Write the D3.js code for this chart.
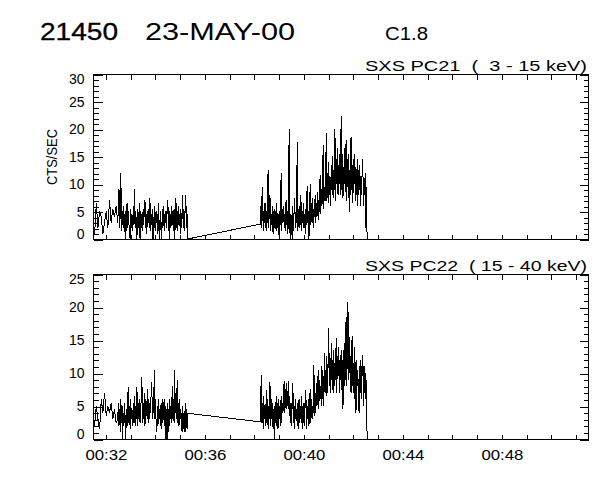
<!DOCTYPE html>
<html><head><meta charset="utf-8">
<script src="https://cdn.jsdelivr.net/npm/d3@7"></script>
<style>
body{margin:0;background:#fff}
svg{display:block}
text{font-family:"Liberation Sans",Arial,sans-serif;fill:#000}
</style>
</head><body>
<svg id="c" width="600" height="480"></svg>
<script>
// ---------- data ----------
const titleParts = ["21450", "23-MAY-00", "C1.8"];
const panelLabels = ["SXS PC21  (  3 - 15 keV)", "SXS PC22  ( 15 - 40 keV)"];
const yAxisTitle = "CTS/SEC";
const xDomain = [31.5, 51.5];            // minutes after 00:00 UT
const xTickMinutes = [32, 36, 40, 44, 48];
const xTickLabels = ["00:32", "00:36", "00:40", "00:44", "00:48"];
const yMaxes = [30, 25];
// segment start (minutes after 00:00) and cadence (seconds)
const segStartMin = [31.5, 32.5, 38.25];
const segStepSec = [4, 1.5, 1.5];

// PC21 (3-15 keV)
const pc21Sparse = [4, 1, 6.5, 2, 5, 4, 1, 3, 5, 2, 7, 3, 5.5, 4, 6];
const pc21Seg1 = [
  3,5.5,9,2,4.5,12,1.5,5,2.5,6,
  2,4.5,0,5,1.5,6.5,2,5,3,1,
  0,5.5,2,4.5,1.5,6,2.5,9,2,5,
  3,0,5.5,2,4,6.5,0,5,2,4.5,
  1.5,5.5,2.5,6,7,2,4.5,1,5,3,
  5.5,2,7.5,1.5,4.5,2.5,5.5,0,4,2,
  6,1.5,5,3,4.5,1,6.5,2,0,5,
  2.5,0,5.5,2,6,1.5,4.5,3,5,2,
  6,7,1.5,5,0,4.5,2,6,2.5,5,
  1.5,5.5,0,3,7.5,2,5,1.5,6,2.5,
  4.5,1,5.5,2,4,8,2,5.5,1.5,6,
  8,2,4.5,0];
const pc21Seg2 = [
  2.7,6,2,7.5,9.5,1.5,5,3,6.5,2,
  5,1.5,7,12.6,2,5.5,8,1.5,4.5,2.5,
  6,1,5,2,5.5,3,1.5,6.5,2,4.5,
  2,0,5,2.5,12,1.5,5.5,3,6,2,
  4.5,1.5,7,2.5,5,1,5.5,20,2,0,
  4.5,2,0,6,1.5,5,7.5,2,4,3,
  17.7,1.5,5.5,2,6,2.5,8,1.5,5,3,
  6.5,2,4.5,1,5.5,2.5,9.6,3,5,0,
  5,10,2.5,6.5,3,7.5,2,5.5,4,8,
  3,6.5,4,8.5,3.5,7,5,11.7,4.5,9,
  6,10,17,5.5,9.5,7,11,19.2,7,12,
  6.5,14,8,11.5,6,13.5,9,15,7.5,12.5,
  9,20,7,14.5,10,16.5,8,13.5,10,15.5,
  8,22.4,9,15.5,7.5,13,10,16.5,8.5,18,
  7,14.5,9.5,15.5,5,12.5,8,18.5,9,13.5,
  6.5,14.5,10,15.5,7,13,8,14.5,6,12.5,
  9,13.5,6,11.5,8,12.5,14.5,6,11,8,
  12,2,9.5,0];

// PC22 (15-40 keV)
const pc22Sparse = [4, 2, 5, 3, 1.5, 6, 4, 7, 3.5, 5, 4, 5.5, 3, 4.5, 2.5];
const pc22Seg1 = [
  3,5.5,2,4.5,1,6,2.5,5,0,4,
  2,5.5,3,0,4.5,2,6,7.9,2.5,5,
  1.5,6,3,4.5,2,5.5,2.5,6.5,2,5,
  3,7.9,2,5.5,3,6,2.5,4.5,6,9.4,
  2.5,5.5,3,7,2,6,3.5,5,7.5,2.5,
  6,3,5.5,4,7,8.7,3,6.5,4,10.5,
  3,6,2.5,1,5,2,6,3,4.5,2,
  5.5,1.5,6,2.5,4.5,6,2,5,0,3,
  5.5,0,4.5,2,6,3,5,2.5,8,3,
  6,2.5,10.5,4,7,3,9,2.5,5.5,2,
  6,3,4.5,2,1,5,1.5,4,1,5.5,
  1,4.5,1.5,3.9];
const pc22Seg2 = [
  2.6,6,9.7,2.5,5.5,1.5,6.5,3,5,2,
  7.4,2.5,6,1.5,5,3,8.6,2,6,3,
  5.5,1.5,4.5,0,5,2.5,6.5,2,5.5,1.5,
  6,3,5,2,6.5,2.5,5.5,4,7,8.8,
  4,7.5,4.5,8.5,5,7,8.8,3.5,6.5,2.5,
  5.5,2,6,8.5,2.5,5,1.5,6,3,4.5,
  2,5.5,1.5,6,2.5,5,3,6.5,1.5,5,
  2.5,5.5,2,6,7.4,1.5,5,3,6,2,
  5,7.6,2.5,6,3,5,4,11.2,3.5,7,
  4,8.5,5,7.5,10.5,4.5,9,6,8,5,
  11,6,9.5,5,13,7,10.5,6.5,12.5,7,
  11.5,16.8,8,12.5,7,14.5,9,12,7,13.5,
  8,11.5,9,15.3,7,12.5,9.5,14,7,12,
  9,13.5,7.5,12,4.6,13.5,8,14.5,9,18.5,
  8,13,20.8,9,15.5,10,12.5,7,14,15.6,
  8,11.5,6,13.9,9,3.9,12,8,10.5,6,
  4,11,7,12,6,10.5,12.7,5,11,7,
  10,6,9,0];

const panelSeries = [[pc21Sparse, pc21Seg1, pc21Seg2], [pc22Sparse, pc22Seg1, pc22Seg2]];

// ---------- layout ----------
const svg = d3.select("#c");
const L = 93, R = 588;
const panels = [{top: 74, bottom: 239}, {top: 274, bottom: 439}];
const x = d3.scaleLinear().domain(xDomain).range([L, R]);
const minuteTicks = d3.range(32, 52, 1);

// titles
svg.append("text").attr("x", 40).attr("y", 40).attr("font-size", 23)
  .attr("textLength", 78).attr("lengthAdjust", "spacingAndGlyphs")
  .attr("stroke", "#000").attr("stroke-width", 0.3).text(titleParts[0]);
svg.append("text").attr("x", 145).attr("y", 40).attr("font-size", 23)
  .attr("textLength", 150).attr("lengthAdjust", "spacingAndGlyphs").text(titleParts[1]);
svg.append("text").attr("x", 385).attr("y", 40).attr("font-size", 18)
  .attr("textLength", 43).attr("lengthAdjust", "spacingAndGlyphs").text(titleParts[2]);

panels.forEach((p, k) => {
  const y = d3.scaleLinear().domain([0, yMaxes[k]]).range([p.bottom, p.top]);
  const g = svg.append("g");

  // data line
  const pts = [];
  panelSeries[k].forEach((vals, s) => {
    vals.forEach((v, i) => pts.push([segStartMin[s] + i * segStepSec[s] / 60, v]));
  });
  g.append("path").datum(pts)
    .attr("fill", "none").attr("stroke", "#000").attr("stroke-width", 1)
    .attr("shape-rendering", "crispEdges")
    .attr("d", d3.line().x(d => x(d[0])).y(d => y(d[1])));

  // box
  g.append("rect").attr("x", L + 0.5).attr("y", p.top + 0.5)
    .attr("width", R - L).attr("height", p.bottom - p.top)
    .attr("fill", "none").attr("stroke", "#000").attr("stroke-width", 1)
    .attr("shape-rendering", "crispEdges");

  const yMinor = d3.range(0, yMaxes[k] + 1, 1).filter(v => v % 5 !== 0);
  const yMajor = d3.range(0, yMaxes[k] + 1, 5);

  const styleAxis = sel => {
    sel.select(".domain").remove();
    sel.selectAll("line").attr("stroke", "#000").attr("shape-rendering", "crispEdges");
    sel.selectAll("text").attr("font-size", 14).attr("font-family", '"Liberation Sans",Arial,sans-serif');
  };

  // left axis: minor
  g.append("g").attr("transform", `translate(${L + 0.5},0.5)`)
    .call(d3.axisLeft(y).tickValues(yMinor).tickSize(-5).tickFormat(""))
    .call(styleAxis);
  // left axis: major with labels
  g.append("g").attr("transform", `translate(${L + 0.5},0.5)`)
    .call(d3.axisLeft(y).tickValues(yMajor).tickSize(-9).tickPadding(9).tickFormat(d3.format("d")))
    .call(styleAxis)
    .call(a => a.selectAll("text").attr("dy", d => d === 0 ? "-0.05em" : d === yMaxes[k] ? "0.65em" : "0.32em"));
  // right axis
  g.append("g").attr("transform", `translate(${R + 0.5},0.5)`)
    .call(d3.axisRight(y).tickValues(yMinor).tickSize(-5).tickFormat(""))
    .call(styleAxis);
  g.append("g").attr("transform", `translate(${R + 0.5},0.5)`)
    .call(d3.axisRight(y).tickValues(yMajor).tickSize(-9).tickFormat(""))
    .call(styleAxis);
  // top axis
  g.append("g").attr("transform", `translate(0.5,${p.top + 0.5})`)
    .call(d3.axisTop(x).tickValues(minuteTicks).tickSize(-5).tickFormat(""))
    .call(styleAxis);
  // bottom axis
  g.append("g").attr("transform", `translate(0.5,${p.bottom + 0.5})`)
    .call(d3.axisBottom(x).tickValues(minuteTicks).tickSize(-5).tickPadding(11)
      .tickFormat(d => { const j = xTickMinutes.indexOf(d); return (k === 1 && j >= 0) ? xTickLabels[j] : ""; }))
    .call(styleAxis)
    .call(a => a.selectAll("text").attr("textLength", d => xTickMinutes.indexOf(d) >= 0 && k === 1 ? 42 : null)
      .attr("lengthAdjust", "spacingAndGlyphs"));

  // panel label
  svg.append("text").attr("x", 365).attr("y", p.top - 3).attr("font-size", 14)
    .attr("textLength", 222).attr("lengthAdjust", "spacingAndGlyphs")
    .attr("xml:space", "preserve").style("white-space", "pre").text(panelLabels[k]);
});

// y axis title
svg.append("text").attr("transform", "translate(57,157) rotate(-90)")
  .attr("text-anchor", "middle").attr("font-size", 15)
  .attr("textLength", 56).attr("lengthAdjust", "spacingAndGlyphs").text(yAxisTitle);
</script>
</body></html>
